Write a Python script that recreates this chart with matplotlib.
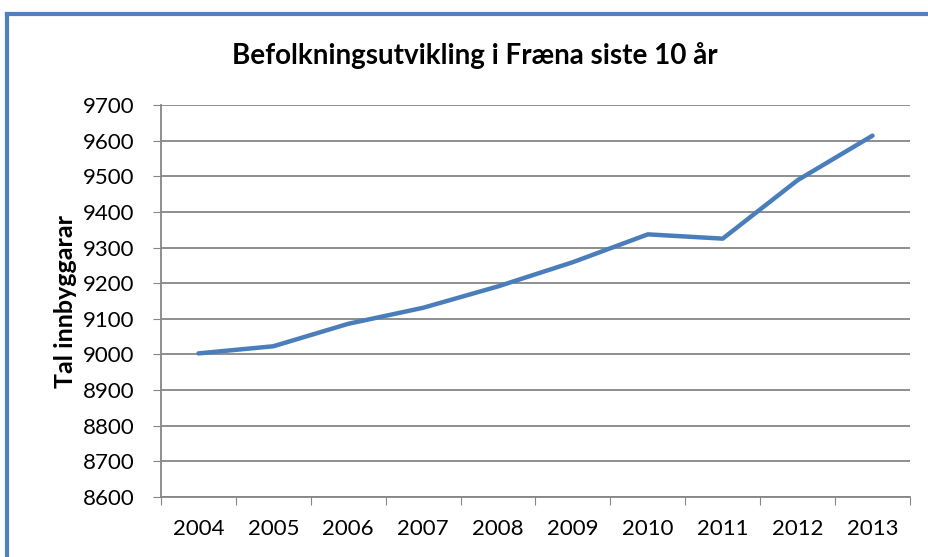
import matplotlib
matplotlib.use("Agg")
import matplotlib.pyplot as plt
from matplotlib.lines import Line2D

years = ['2004', '2005', '2006', '2007', '2008', '2009', '2010', '2011', '2012', '2013']
innbyggarar = [9003, 9023, 9086, 9131, 9191, 9259, 9337, 9325, 9489, 9614]
yticks = list(range(8600, 9701, 100))

plt.rcParams['font.family'] = ['Lato', 'DejaVu Sans']

fig = plt.figure(figsize=(9.29, 5.57), dpi=100)
ax = fig.add_axes([0.1733, 0.1077, 0.8062, 0.7038])

x = list(range(len(years)))
ax.plot(x, innbyggarar, color='#4A7EBB', lw=3.2, solid_capstyle='round', zorder=3)

ax.set_xlim(-0.5, len(years) - 0.5)
ax.set_ylim(8600, 9700)
ax.set_yticks(yticks)
ax.set_yticklabels([str(v) for v in yticks], fontsize=16)
ax.grid(axis='y', color='#868686', lw=1.3)
ax.set_axisbelow(True)

# tick marks between categories, labels in the middle
ax.set_xticks([i - 0.5 for i in range(len(years) + 1)])
ax.set_xticklabels([])
ax.set_xticks(x, minor=True)
ax.set_xticklabels(years, minor=True, fontsize=16)
ax.tick_params(axis='x', which='minor', length=0, pad=16)
ax.tick_params(axis='x', which='major', length=6, color='#868686')
ax.tick_params(axis='y', length=6, color='#868686', pad=13)

for s in ['top', 'right']:
    ax.spines[s].set_visible(False)
for s in ['left', 'bottom']:
    ax.spines[s].set_color('#868686')
    ax.spines[s].set_linewidth(1.3)

ax.set_ylabel('Tal innbyggarar', fontsize=18, fontweight='bold', labelpad=4)
fig.text(0.511, 0.90, 'Befolkningsutvikling i Fræna siste 10 år',
         ha='center', va='center', fontsize=20, fontweight='bold')

# blue chart frame (left and top edges)
fig.add_artist(Line2D([0.0075, 0.0075], [0, 0.975], transform=fig.transFigure,
                      color='#4F81BD', lw=3))
fig.add_artist(Line2D([0.0075, 1.0], [0.975, 0.975], transform=fig.transFigure,
                      color='#4F81BD', lw=3))

fig.savefig('out.png', dpi=100, facecolor='white')
